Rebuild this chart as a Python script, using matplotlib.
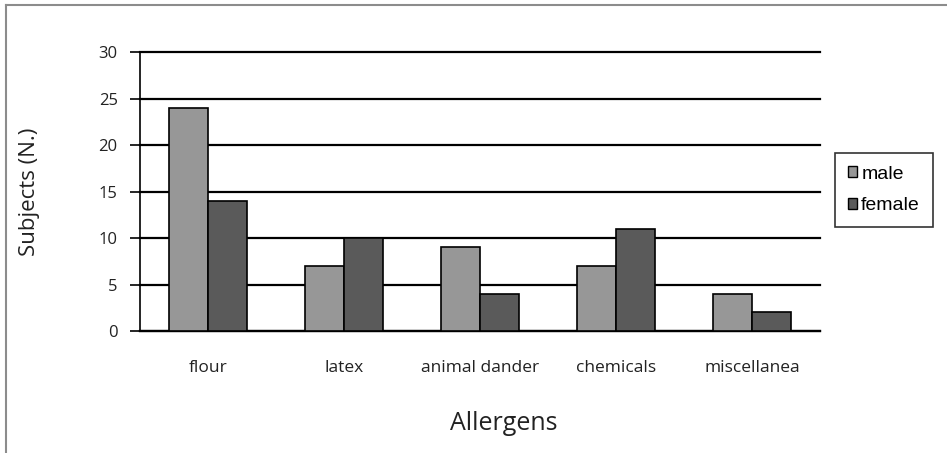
import numpy as np
import matplotlib.pyplot as plt
from matplotlib.lines import Line2D
from matplotlib.patches import Patch

# values
allergens = ['flour', 'latex', 'animal dander', 'chemicals', 'miscellanea']
male = [24, 7, 9, 7, 4]
female = [14, 10, 4, 11, 2]
yticks = [0, 5, 10, 15, 20, 25, 30]

male_col = '#979797'
female_col = '#5a5a5a'

fig = plt.figure(figsize=(9.47, 4.53), dpi=100)
ax = fig.add_axes([0.1478, 0.2693, 0.718, 0.6159])

x = np.arange(len(allergens))
w = 0.287
ax.bar(x - w / 2, male, w, color=male_col, edgecolor='black', linewidth=1.2, zorder=3, label='male')
ax.bar(x + w / 2, female, w, color=female_col, edgecolor='black', linewidth=1.2, zorder=3, label='female')

ax.set_xlim(-0.5, len(allergens) - 0.5)
ax.set_ylim(0, 30)
ax.set_yticks(yticks)
ax.set_xticks(x)
ax.set_xticklabels(allergens, fontsize=12.5, color='#222222', family='Open Sans')
ax.tick_params(axis='x', length=0, pad=21)
ax.tick_params(axis='y', length=7, width=1.2, pad=9, labelsize=12, labelcolor='#222222')
for lab in ax.get_yticklabels():
    lab.set_family('Open Sans')

ax.grid(axis='y', color='black', linewidth=1.6, zorder=0)
for gl in ax.get_ygridlines():
    gl.set_clip_on(False)
for s in ['top', 'right']:
    ax.spines[s].set_visible(False)
ax.spines['left'].set_linewidth(1.2)
ax.spines['bottom'].set_linewidth(1.6)

ax.set_ylabel('Subjects (N.)', fontsize=16, family='Open Sans', labelpad=42, color='#222222')
ax.set_xlabel('Allergens', fontsize=18, family='Open Sans', color='#222222', va='center')
ax.xaxis.set_label_coords(0.535, -0.33)

handles = [Patch(facecolor=male_col, edgecolor='black'), Patch(facecolor=female_col, edgecolor='black')]
leg = fig.legend(handles, ['male', 'female'], loc='center left', bbox_to_anchor=(0.8817, 0.5806),
                 prop={'family': 'Liberation Sans', 'size': 14}, frameon=True, fancybox=False,
                 handlelength=0.5, handleheight=0.5, handletextpad=0.2, borderpad=0.65,
                 labelspacing=0.75, borderaxespad=0)
leg.get_frame().set_edgecolor('black')
leg.get_frame().set_linewidth(1.2)

# outer frame: only top and left edges visible
fig.add_artist(Line2D([0.0063, 0.0063], [0, 0.989], transform=fig.transFigure, color='#8c8c8c', linewidth=1.5))
fig.add_artist(Line2D([0.0063, 1.0], [0.989, 0.989], transform=fig.transFigure, color='#8c8c8c', linewidth=1.5))

fig.savefig('out.png', dpi=100)
